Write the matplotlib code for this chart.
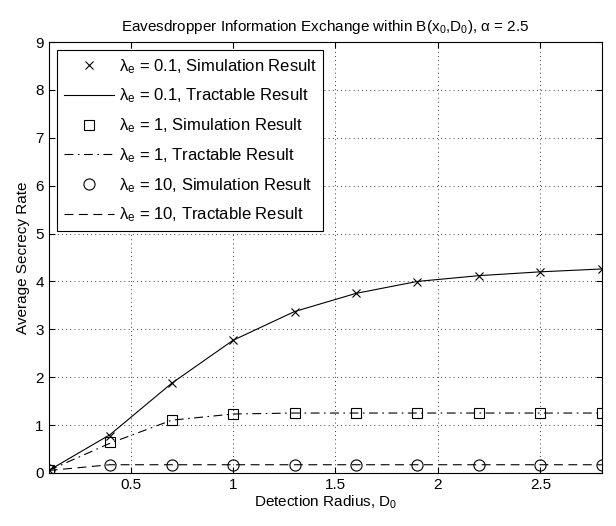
import numpy as np
import matplotlib
matplotlib.use('Agg')
import matplotlib.pyplot as plt

plt.rcParams['font.family'] = ['Liberation Sans', 'DejaVu Sans']
plt.rcParams['mathtext.fontset'] = 'custom'
plt.rcParams['mathtext.rm'] = 'Liberation Sans'
plt.rcParams['mathtext.it'] = 'Liberation Sans'
plt.rcParams['mathtext.default'] = 'regular'

# Detection radius samples
D0 = [0.1, 0.4, 0.7, 1.0, 1.3, 1.6, 1.9, 2.2, 2.5, 2.8]

# lambda_e = 0.1
sim_01 = [0.05, 0.78, 1.87, 2.77, 3.37, 3.75, 3.98, 4.12, 4.20, 4.26]
tra_01 = [0.05, 0.80, 1.87, 2.77, 3.37, 3.75, 4.00, 4.12, 4.20, 4.26]
# lambda_e = 1
sim_1 = [0.05, 0.65, 1.10, 1.23, 1.25, 1.25, 1.25, 1.25, 1.25, 1.25]
tra_1 = [0.05, 0.62, 1.10, 1.23, 1.25, 1.25, 1.25, 1.25, 1.25, 1.25]
# lambda_e = 10
sim_10 = [0.05, 0.17, 0.17, 0.17, 0.17, 0.17, 0.17, 0.17, 0.17, 0.17]
tra_10 = [0.05, 0.17, 0.17, 0.17, 0.17, 0.17, 0.17, 0.17, 0.17, 0.17]

fig = plt.figure(figsize=(6.16, 5.26), dpi=100)
ax = fig.add_axes([0.079, 0.101, 0.898, 0.819])

ax.plot(D0, sim_01, 'kx', markersize=6, mew=0.8, label=r'$\lambda_e$ = 0.1, Simulation Result')
ax.plot(D0, tra_01, 'k-', linewidth=0.8, label=r'$\lambda_e$ = 0.1, Tractable Result')
ax.plot(D0, sim_1, 'ks', markersize=7, mfc='none', mew=0.8, label=r'$\lambda_e$ = 1, Simulation Result')
ax.plot(D0, tra_1, 'k-.', linewidth=0.8, dashes=(8, 4, 1.5, 4), label=r'$\lambda_e$ = 1, Tractable Result')
ax.plot(D0, sim_10, 'ko', markersize=8, mfc='none', mew=0.8, label=r'$\lambda_e$ = 10, Simulation Result')
ax.plot(D0, tra_10, 'k--', linewidth=0.8, dashes=(8, 5), label=r'$\lambda_e$ = 10, Tractable Result')

ax.set_xlim(0.1, 2.8)
ax.set_ylim(0, 9)
ax.set_xticks([0.5, 1, 1.5, 2, 2.5])
ax.set_xticklabels(['0.5', '1', '1.5', '2', '2.5'])
ax.set_yticks(range(0, 10))
ax.tick_params(direction='in', top=True, right=True, labelsize=11, length=4)
ax.grid(True, color='k', linestyle=(0, (1, 4)), linewidth=0.6)
for s in ax.spines.values():
    s.set_linewidth(0.8)

ax.set_xlabel('Detection Radius, $D_0$', fontsize=11, labelpad=1)
ax.set_ylabel('Average Secrecy Rate', fontsize=11, labelpad=4)
ax.set_title(r'Eavesdropper Information Exchange within B($x_0$,$D_0$), $\alpha$ = 2.5', fontsize=11, pad=8)

leg = ax.legend(loc='upper left', fontsize=12, frameon=True, fancybox=False,
                edgecolor='k', framealpha=1, handlelength=3, borderaxespad=0.5,
                labelspacing=0.66, handletextpad=0.3)
leg.get_frame().set_linewidth(0.8)

fig.savefig('out.png', dpi=100)
